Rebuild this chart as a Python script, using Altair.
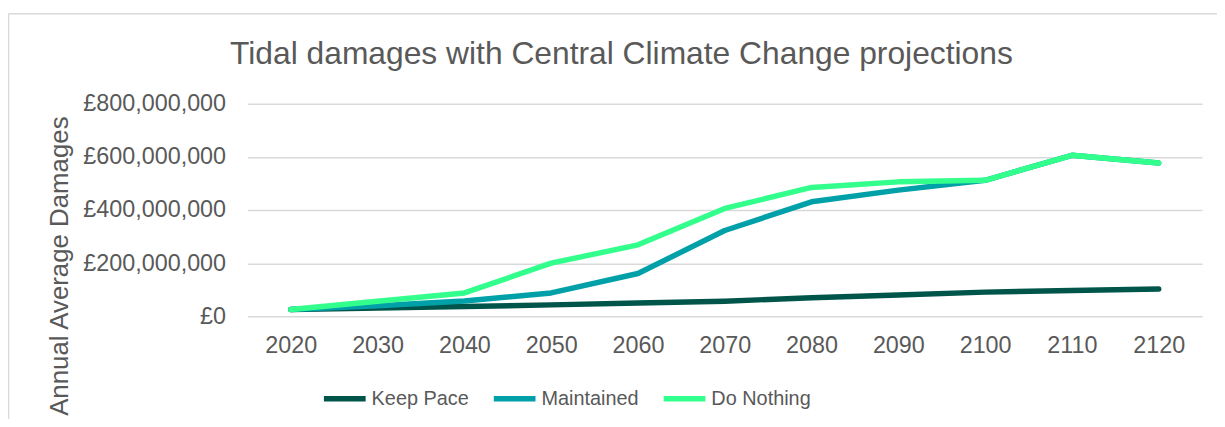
import altair as alt
import pandas as pd

years = ["2020", "2030", "2040", "2050", "2060", "2070", "2080", "2090", "2100", "2110", "2120"]
keep_pace = [26e6, 31e6, 37e6, 43e6, 50e6, 57e6, 70e6, 80e6, 91e6, 97e6, 103e6]
maintained = [26e6, 40e6, 58e6, 88e6, 161e6, 323e6, 431e6, 475e6, 512e6, 606e6, 577e6]
do_nothing = [26e6, 57e6, 88e6, 200e6, 269e6, 406e6, 485e6, 506e6, 512e6, 606e6, 577e6]
series = ["Keep Pace", "Maintained", "Do Nothing"]
colors = ["#00554A", "#00A0A8", "#33FF8C"]
title_text = ["Tidal damages with Central Climate Change projections"]

rows = []
for name, vals in zip(series, [keep_pace, maintained, do_nothing]):
    for yr, v in zip(years, vals):
        rows.append({"Year": yr, "Damages": v, "Scenario": name, "order": series.index(name)})
df = pd.DataFrame(rows)
title_df = pd.DataFrame({"t": title_text})

TXT = "#595959"
FONT = "Liberation Sans"

lines = alt.Chart(df).mark_line(strokeWidth=5.5, strokeCap="round", strokeJoin="round").encode(
    x=alt.X("Year:N", sort=years,
            scale=alt.Scale(type="point", padding=0.5),
            axis=alt.Axis(title=None, domain=False, ticks=False, tickSize=0, grid=False,
                          labelAngle=0, labelFontSize=23.5, labelColor=TXT, labelFont=FONT,
                          labelBaseline="alphabetic", labelPadding=36)),
    y=alt.Y("Damages:Q", scale=alt.Scale(domain=[0, 800e6], nice=False),
            axis=alt.Axis(title="Annual Average Damages", values=[0, 200e6, 400e6, 600e6, 800e6],
                          labelExpr="'£' + format(datum.value, ',')",
                          domain=False, ticks=False, tickSize=0, grid=True,
                          gridColor="#D9D9D9", gridWidth=1.5,
                          labelFontSize=23.5, labelColor=TXT, labelFont=FONT, labelPadding=22,
                          titleFontSize=26, titleColor=TXT, titleFont=FONT, titleFontWeight="normal",
                          titleAngle=-90, titleAlign="center", titleBaseline="alphabetic",
                          titleX=-181, titleY=163)),
    color=alt.Color("Scenario:N", sort=series,
                    scale=alt.Scale(domain=series, range=colors),
                    legend=alt.Legend(title=None, orient="none", direction="horizontal",
                                      legendX=74, legendY=273,
                                      symbolType="stroke", symbolSize=1764, symbolStrokeWidth=5.5,
                                      labelFontSize=20, labelColor=TXT, labelFont=FONT,
                                      labelOffset=3, columnPadding=14)),
    order=alt.Order("order:Q"),
)

title = alt.Chart(title_df).mark_text(
    fontSize=32, font=FONT, color=TXT, align="center", baseline="alphabetic"
).encode(text="t:N", x=alt.value(376.5), y=alt.value(-40))

border_left = alt.Chart(title_df).mark_rule(color="#D9D9D9", strokeWidth=1.5).encode(
    x=alt.value(-240.5), y=alt.value(-90.5), y2=alt.value(330)
)
border_top = alt.Chart(title_df).mark_rule(color="#D9D9D9", strokeWidth=1.5).encode(
    x=alt.value(-240.5), x2=alt.value(990), y=alt.value(-90.5)
)

chart = alt.layer(border_left, border_top, title, lines).properties(
    width=961, height=214,
    padding={"left": 241, "top": 95, "right": 15, "bottom": 102},
    autosize=alt.AutoSizeParams(type="none"),
).configure_view(stroke=None)

chart.save("out.html", embed_options={"renderer": "svg", "actions": False})
